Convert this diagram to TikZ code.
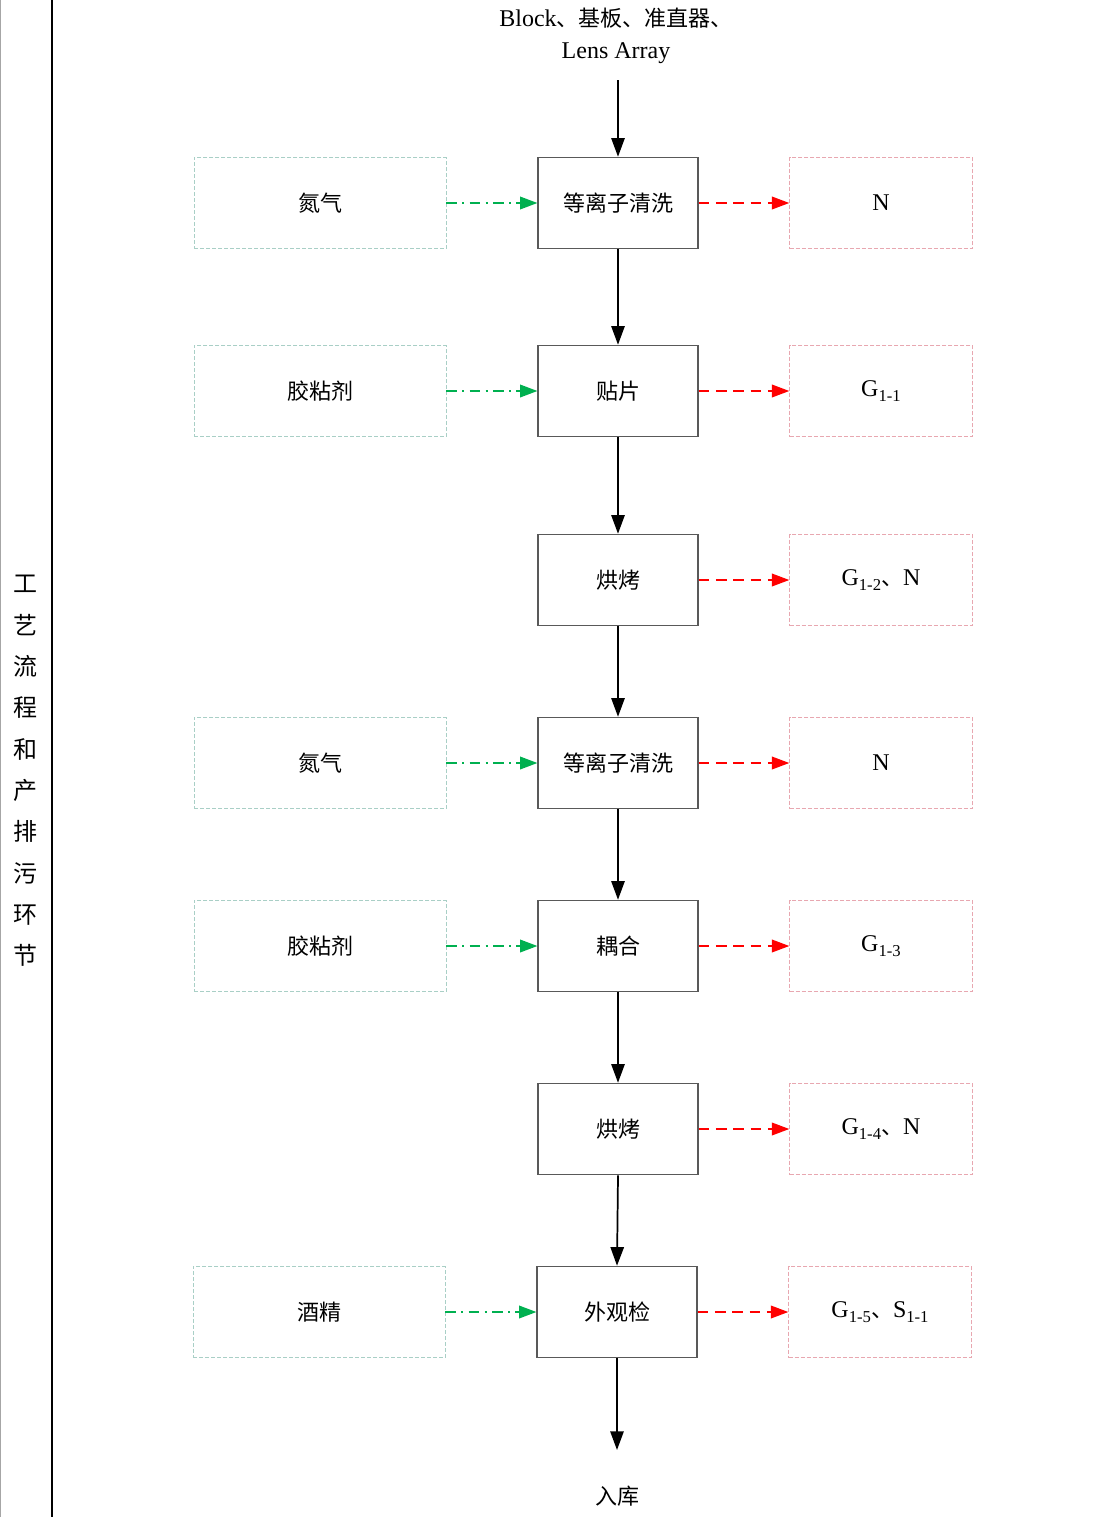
\documentclass[tikz,border=0pt]{standalone}
\usepackage{fontspec}
\setmainfont{Liberation Serif}
\newfontfamily\cjk{Noto Sans CJK SC}
\usetikzlibrary{arrows.meta}
\definecolor{flowgreen}{HTML}{00B050}
\definecolor{inbox}{HTML}{A9CFC6}
\definecolor{outbox}{HTML}{E8A7B0}
\newcommand{\lowidx}[1]{\raisebox{-0.45ex}{\fontsize{12.5pt}{12.5pt}\selectfont #1}}
\newcommand{\sep}{{\cjk\fontsize{16.5pt}{19pt}\selectfont 、}}
\tikzset{
  every node/.style={font=\fontsize{18pt}{24pt}\selectfont},
  cjktext/.style={font=\cjk\fontsize{16.5pt}{19pt}\selectfont},
  stepbox/.style={draw=black!65, line width=0.9pt, minimum width=120pt, minimum height=68.5pt, inner sep=0pt, cjktext},
  inputbox/.style={draw=inbox, dashed, dash pattern=on 3pt off 1.5pt, line width=0.6pt, minimum width=189pt, minimum height=68.5pt, inner sep=0pt, cjktext},
  outputbox/.style={draw=outbox, dashed, dash pattern=on 3pt off 1.5pt, line width=0.6pt, minimum width=137pt, minimum height=68.5pt, inner sep=0pt},
  mainflow/.style={draw=black, line width=1.3pt, -{Triangle[length=14pt,width=10pt]}},
  feed/.style={draw=flowgreen, line width=1.1pt, dash pattern=on 8pt off 4pt on 1.5pt off 4pt, -{Triangle[length=13pt,width=9.5pt]}},
  emit/.style={draw=red, line width=1.1pt, dash pattern=on 8pt off 5pt, -{Triangle[length=13pt,width=9.5pt]}},
}
\begin{document}
\begin{tikzpicture}[x=0.75pt,y=-0.75pt]
  \useasboundingbox (0,0) rectangle (1113,1517);
  % side column with its label
  \draw[gray!70, line width=0.8pt] (0.6,0) -- (0.6,1517);
  \draw[black, line width=1pt] (52,0) -- (52,1517);
  \node[align=center, font=\cjk\fontsize{18pt}{31pt}\selectfont] (side) at (25,771)
    {工\\艺\\流\\程\\和\\产\\排\\污\\环\\节};

  % materials entering the line
  \node[align=center] (start) at (616,36) {Block\sep{\cjk\fontsize{16.5pt}{19pt}\selectfont 基板、准直器、}\\Lens Array};
  \coordinate (startend) at (618,80);

  % process steps
  \node[stepbox] (s1) at (618,203)  {等离子清洗};
  \node[stepbox] (s2) at (618,391)  {贴片};
  \node[stepbox] (s3) at (618,580)  {烘烤};
  \node[stepbox] (s4) at (618,763)  {等离子清洗};
  \node[stepbox] (s5) at (618,946)  {耦合};
  \node[stepbox] (s6) at (618,1129) {烘烤};
  \node[stepbox] (s7) at (617,1312) {外观检};

  % auxiliary inputs
  \node[inputbox] (i1) at (320,203)  {氮气};
  \node[inputbox] (i2) at (320,391)  {胶粘剂};
  \node[inputbox] (i4) at (320,763)  {氮气};
  \node[inputbox] (i5) at (320,946)  {胶粘剂};
  \node[inputbox] (i7) at (319,1312) {酒精};

  % emissions
  \node[outputbox] (o1) at (881,203)  {N};
  \node[outputbox] (o2) at (881,391)  {G\lowidx{1-1}};
  \node[outputbox] (o3) at (881,580)  {G\lowidx{1-2}\sep N};
  \node[outputbox] (o4) at (881,763)  {N};
  \node[outputbox] (o5) at (881,946)  {G\lowidx{1-3}};
  \node[outputbox] (o6) at (881,1129) {G\lowidx{1-4}\sep N};
  \node[outputbox] (o7) at (880,1312) {G\lowidx{1-5}\sep S\lowidx{1-1}};

  % storage
  \coordinate (endtip) at (617,1450);
  \node[cjktext] (store) at (617,1496) {入库};

  % main flow
  \draw[mainflow] (startend) -- (s1);
  \draw[mainflow] (s1) -- (s2);
  \draw[mainflow] (s2) -- (s3);
  \draw[mainflow] (s3) -- (s4);
  \draw[mainflow] (s4) -- (s5);
  \draw[mainflow] (s5) -- (s6);
  \draw[mainflow] (s6.south) -- (s7.north);
  \draw[mainflow] (s7) -- (endtip);

  % inputs
  \foreach \k in {1,2,4,5,7} \draw[feed] (i\k) -- (s\k);
  % emissions
  \foreach \k in {1,...,7} \draw[emit] (s\k) -- (o\k);
\end{tikzpicture}
\end{document}
